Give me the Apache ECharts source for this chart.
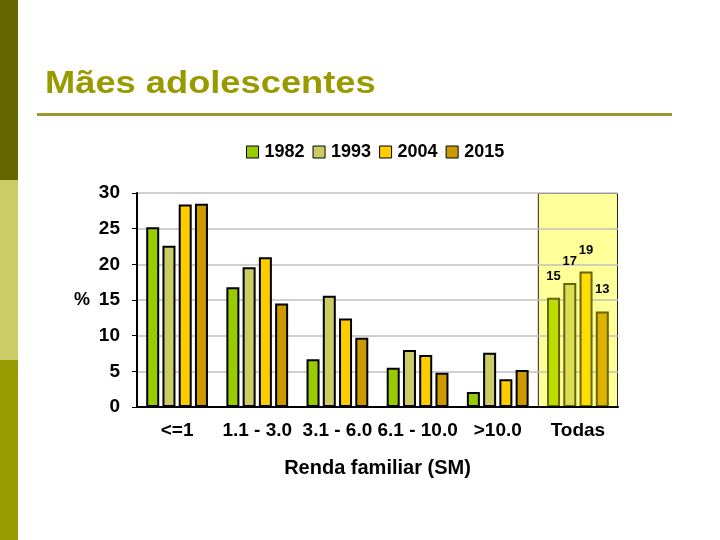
<!DOCTYPE html>
<html>
<head>
<meta charset="utf-8">
<script src="https://cdn.jsdelivr.net/npm/echarts@6/dist/echarts.min.js"></script>
<style>
  html, body { margin: 0; padding: 0; background: #fff; }
  #chart { width: 720px; height: 540px; }
</style>
</head>
<body>
<div id="chart"></div>
<script>
// dados
const categorias = ["<=1", "1.1 - 3.0", "3.1 - 6.0", "6.1 - 10.0", ">10.0", "Todas"];
const anos = ["1982", "1993", "2004", "2015"];
const v1982 = [25.2, 16.8, 6.7, 5.5, 2.1, 15.3];
const v1993 = [22.6, 19.6, 15.6, 8.0, 7.6, 17.4];
const v2004 = [28.4, 21.0, 12.4, 7.3, 3.9, 19.0];
const v2015 = [28.5, 14.5, 9.7, 4.8, 5.2, 13.4];
const yTicks = { min: 0, max: 30, interval: 5 };

const cores = ["#99CC00", "#CCCC66", "#FFCC00", "#CC9900"];
const coresTodas = ["#BBDD00", "#DDDD55", "#FFDD00", "#DDB300"];
const valores = [v1982, v1993, v2004, v2015];

const chart = echarts.init(document.getElementById("chart"));

const fonte = "Liberation Sans, Arial, sans-serif";

const barras = anos.map((ano, i) => ({
  name: ano,
  type: "bar",
  z: 5,
  barWidth: 13,
  barGap: "25%",
  itemStyle: { color: cores[i], borderColor: "#000", borderWidth: 2 },
  data: valores[i].map((v, j) => {
    if (categorias[j] !== "Todas") return v;
    return {
      value: v,
      itemStyle: { color: coresTodas[i], borderColor: "#666600", borderWidth: 2 },
      label: {
        show: true,
        position: "top",
        distance: 15,
        formatter: (p) => Math.round(p.value),
        fontFamily: fonte,
        fontWeight: "bold",
        fontSize: 13,
        color: "#000"
      }
    };
  })
}));

// faixa amarela atrás de "Todas"
const fundo = {
  name: "fundo",
  type: "bar",
  xAxisIndex: 1,
  z: 1,
  barWidth: "100%",
  silent: true,
  itemStyle: { color: "#FFFF99", borderColor: "#222", borderWidth: 1 },
  data: categorias.map((c) => (c === "Todas" ? yTicks.max : null))
};

chart.setOption({
  animation: false,
  backgroundColor: "#fff",
  graphic: [
    { type: "rect", shape: { x: 0, y: 0, width: 18, height: 180 }, style: { fill: "#666600" } },
    { type: "rect", shape: { x: 0, y: 180, width: 18, height: 180 }, style: { fill: "#CCCC66" } },
    { type: "rect", shape: { x: 0, y: 360, width: 18, height: 180 }, style: { fill: "#999900" } },
    {
      type: "text", x: 45, y: 100, scaleX: 1.17,
      style: {
        text: "Mães adolescentes", fill: "#999900",
        font: "bold 31px " + fonte, textVerticalAlign: "bottom"
      }
    },
    { type: "rect", shape: { x: 37, y: 113, width: 635, height: 3 }, style: { fill: "#999933" } }
  ],
  legend: {
    data: anos,
    top: 138,
    left: 241,
    icon: "rect",
    itemWidth: 12,
    itemHeight: 12,
    itemGap: 8,
    itemStyle: { borderColor: "#000", borderWidth: 1 },
    textStyle: { fontFamily: fonte, fontWeight: "bold", fontSize: 18, color: "#000", padding: [0, 0, 0, 1] }
  },
  grid: { left: 137, right: 102, top: 193, bottom: 133 },
  xAxis: [
    {
      type: "category",
      data: categorias,
      z: 6,
      axisLine: { lineStyle: { color: "#000", width: 2 } },
      axisTick: { show: false },
      axisLabel: { fontFamily: fonte, fontWeight: "bold", fontSize: 19, color: "#000", margin: 14, interval: 0 },
      name: "Renda familiar (SM)",
      nameLocation: "middle",
      nameGap: 51,
      nameTextStyle: { fontFamily: fonte, fontWeight: "bold", fontSize: 20, color: "#000" }
    },
    {
      type: "category",
      data: categorias,
      show: false
    }
  ],
  yAxis: {
    type: "value",
    min: yTicks.min,
    max: yTicks.max,
    interval: yTicks.interval,
    z: 3,
    axisLine: { show: true, lineStyle: { color: "#000", width: 2 } },
    axisTick: { show: true, length: 5, lineStyle: { color: "#000" } },
    axisLabel: { fontFamily: fonte, fontWeight: "bold", fontSize: 19, color: "#000", margin: 17 },
    splitLine: { lineStyle: { color: "#c0c0c0", width: 1.5 } },
    name: "%",
    nameLocation: "middle",
    nameRotate: 0,
    nameGap: 47,
    nameTextStyle: { fontFamily: fonte, fontWeight: "bold", fontSize: 18, color: "#000", padding: [0, 0, 18, 0] }
  },
  series: [fundo, ...barras]
});
</script>
</body>
</html>
